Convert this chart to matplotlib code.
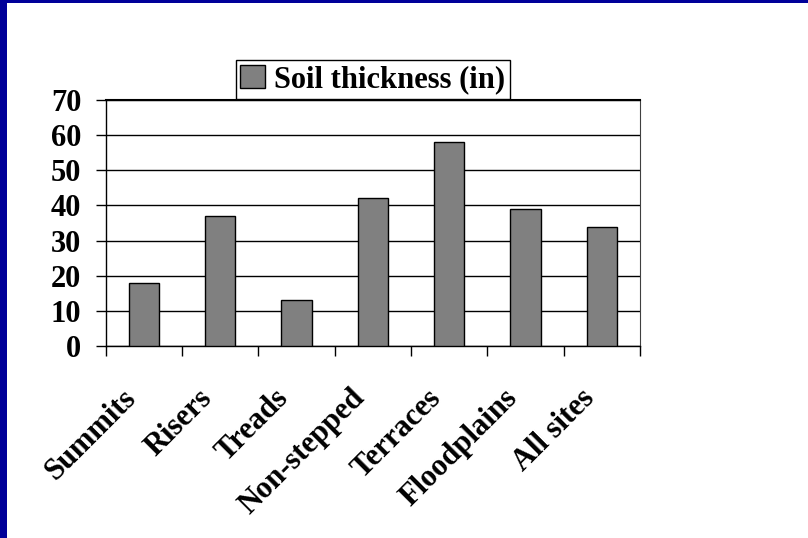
import numpy as np
import matplotlib
matplotlib.use("Agg")
import matplotlib.pyplot as plt
import matplotlib.transforms as mtransforms
from matplotlib.patches import Rectangle

plt.rcParams['font.family'] = ['Liberation Serif', 'DejaVu Serif']
plt.rcParams['font.weight'] = 'bold'

# soil thickness by landscape position
sites = ["Summits", "Risers", "Treads", "Non-stepped", "Terraces", "Floodplains", "All sites"]
thickness = [18, 37, 13, 42, 58, 39, 34]
yticks = [0, 10, 20, 30, 40, 50, 60, 70]

fig = plt.figure(figsize=(8.08, 5.38), dpi=100)
fig.patch.set_facecolor("white")

# navy frame on the left and top edges
fig.patches.append(Rectangle((0, 0), 7 / 808, 1, transform=fig.transFigure,
                             facecolor="#000099", edgecolor="none", zorder=0))
fig.patches.append(Rectangle((0, 1 - 3 / 538), 1, 3 / 538, transform=fig.transFigure,
                             facecolor="#000099", edgecolor="none", zorder=0))

ax = fig.add_axes([0.1308, 0.3569, 0.6613, 0.4572])

x = np.arange(len(sites))
ax.bar(x, thickness, width=0.4, color="#808080", edgecolor="black",
       linewidth=1, zorder=3, label="Soil thickness (in)")

ax.set_xlim(-0.5, len(sites) - 0.5)
ax.set_ylim(0, 70)
ax.set_yticks(yticks)
ax.set_yticklabels([str(v) for v in yticks], fontsize=22, fontweight="bold")
ax.yaxis.grid(True, color="black", linewidth=1, zorder=0)
ax.tick_params(axis="y", direction="out", length=7.5, width=1, pad=10)

# category labels at bar centres, tick marks on category boundaries
ax.set_xticks(x)
ax.set_xticklabels(sites, fontsize=22, fontweight="bold", rotation=45,
                   ha="right", rotation_mode="anchor")
ax.tick_params(axis="x", which="major", length=0, pad=27)
shift = mtransforms.ScaledTranslation(-16 / 72, 0, fig.dpi_scale_trans)
for lbl in ax.get_xticklabels():
    lbl.set_transform(lbl.get_transform() + shift)
ax.set_xticks(np.arange(-0.5, len(sites)), minor=True)
ax.tick_params(axis="x", which="minor", direction="out", length=7.5, width=1)

for side in ["left", "bottom", "top"]:
    ax.spines[side].set_color("black")
    ax.spines[side].set_linewidth(1)
ax.spines["right"].set_color("#404040")
ax.spines["top"].set_linewidth(1.5)

leg = ax.legend(loc="lower center", bbox_to_anchor=(0.5, 1.005), fontsize=22,
                frameon=True, fancybox=False, edgecolor="black", framealpha=1,
                handlelength=0.8, handleheight=0.8, handletextpad=0.3,
                borderpad=0.15, borderaxespad=0)
leg.get_frame().set_linewidth(1)
for t in leg.get_texts():
    t.set_fontweight("bold")

fig.savefig("out.png", dpi=100, facecolor="white")
